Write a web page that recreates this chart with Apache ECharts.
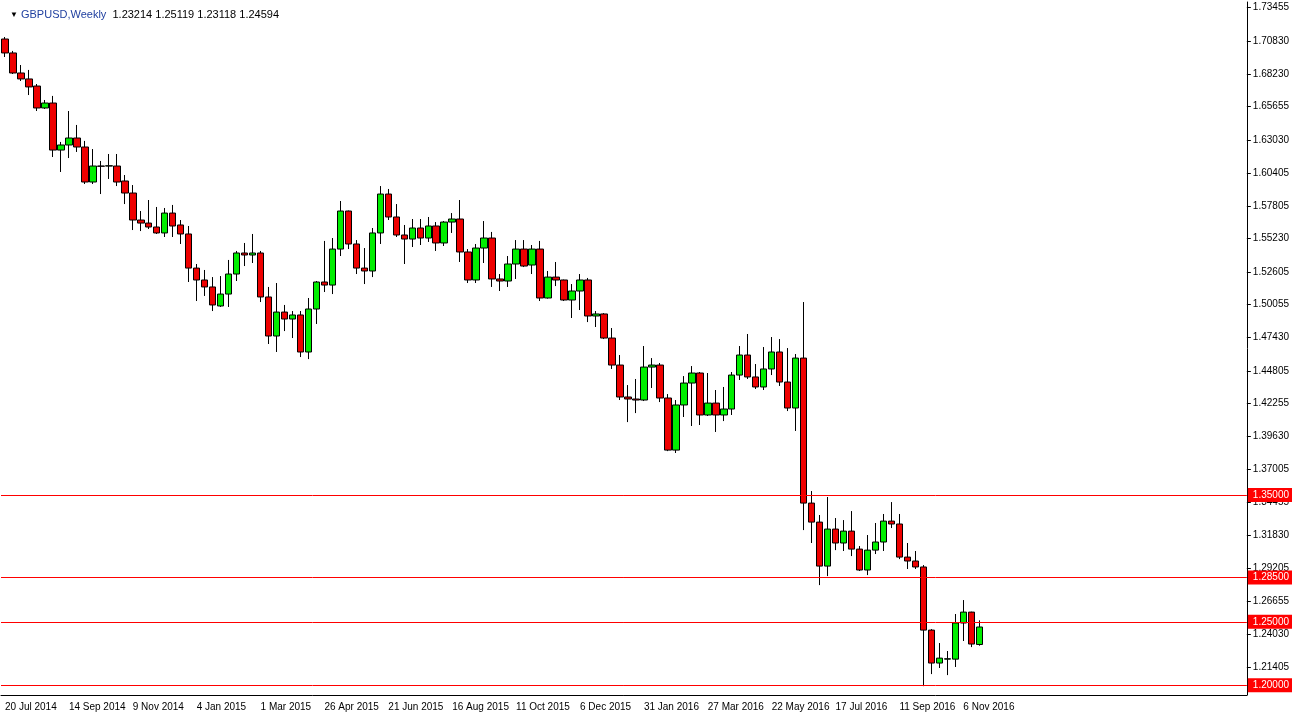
<!DOCTYPE html>
<html>
<head>
<meta charset="utf-8">
<script src="https://cdn.jsdelivr.net/npm/echarts@6/dist/echarts.min.js"></script>
<style>
  html, body { margin: 0; padding: 0; background: #fff; }
  #main { width: 1292px; height: 726px; }
</style>
</head>
<body>
<div id="main"></div>
<script>
// weekly GBPUSD candles, [open, close, low, high]
const candles = [
  [1.7098, 1.6988, 1.6956, 1.7114], [1.6988, 1.6830, 1.6822, 1.7004], [1.6830, 1.6783, 1.6767, 1.6893],
  [1.6783, 1.6720, 1.6656, 1.6854], [1.6727, 1.6554, 1.6530, 1.6743], [1.6554, 1.6593, 1.6546, 1.6617],
  [1.6593, 1.6222, 1.6167, 1.6649], [1.6222, 1.6262, 1.6049, 1.6286], [1.6262, 1.6317, 1.6159, 1.6530],
  [1.6317, 1.6246, 1.6207, 1.6420], [1.6246, 1.5970, 1.5954, 1.6294], [1.5970, 1.6096, 1.5954, 1.6230],
  [1.6096, 1.6094, 1.5875, 1.6136], [1.6096, 1.6098, 1.5994, 1.6191], [1.6096, 1.5970, 1.5938, 1.6191],
  [1.5978, 1.5883, 1.5796, 1.6025], [1.5883, 1.5670, 1.5591, 1.5946], [1.5670, 1.5646, 1.5583, 1.5741],
  [1.5646, 1.5615, 1.5599, 1.5828], [1.5615, 1.5568, 1.5560, 1.5773], [1.5568, 1.5725, 1.5536, 1.5765],
  [1.5725, 1.5623, 1.5536, 1.5789], [1.5631, 1.5560, 1.5481, 1.5670], [1.5560, 1.5291, 1.5181, 1.5623],
  [1.5291, 1.5197, 1.5031, 1.5323], [1.5197, 1.5142, 1.5071, 1.5276], [1.5142, 1.5000, 1.4952, 1.5220],
  [1.4992, 1.5086, 1.4984, 1.5228], [1.5086, 1.5244, 1.4984, 1.5355], [1.5244, 1.5410, 1.5189, 1.5426],
  [1.5410, 1.5394, 1.5307, 1.5489], [1.5394, 1.5410, 1.5331, 1.5560], [1.5410, 1.5063, 1.5023, 1.5426],
  [1.5063, 1.4755, 1.4692, 1.5142], [1.4755, 1.4944, 1.4629, 1.5173], [1.4944, 1.4889, 1.4794, 1.5000],
  [1.4889, 1.4921, 1.4739, 1.4952], [1.4921, 1.4629, 1.4589, 1.4952], [1.4629, 1.4968, 1.4573, 1.5055],
  [1.4968, 1.5181, 1.4850, 1.5189], [1.5181, 1.5157, 1.5102, 1.5505], [1.5157, 1.5441, 1.5086, 1.5528],
  [1.5441, 1.5741, 1.5386, 1.5820], [1.5741, 1.5481, 1.5441, 1.5745], [1.5481, 1.5291, 1.5244, 1.5512],
  [1.5291, 1.5268, 1.5165, 1.5449], [1.5268, 1.5568, 1.5220, 1.5607], [1.5568, 1.5875, 1.5481, 1.5938],
  [1.5875, 1.5694, 1.5670, 1.5915], [1.5694, 1.5552, 1.5536, 1.5796], [1.5552, 1.5520, 1.5323, 1.5631],
  [1.5520, 1.5607, 1.5457, 1.5678], [1.5607, 1.5528, 1.5473, 1.5678], [1.5528, 1.5623, 1.5497, 1.5694],
  [1.5623, 1.5489, 1.5426, 1.5654], [1.5489, 1.5654, 1.5465, 1.5662], [1.5654, 1.5678, 1.5568, 1.5725],
  [1.5678, 1.5418, 1.5339, 1.5828], [1.5418, 1.5197, 1.5173, 1.5441], [1.5197, 1.5449, 1.5173, 1.5481],
  [1.5449, 1.5528, 1.5331, 1.5662], [1.5528, 1.5205, 1.5142, 1.5576], [1.5205, 1.5189, 1.5110, 1.5244],
  [1.5189, 1.5323, 1.5142, 1.5386], [1.5323, 1.5441, 1.5205, 1.5512], [1.5441, 1.5307, 1.5299, 1.5512],
  [1.5315, 1.5441, 1.5244, 1.5473], [1.5441, 1.5055, 1.5031, 1.5505], [1.5055, 1.5220, 1.5050, 1.5268],
  [1.5220, 1.5197, 1.5149, 1.5339], [1.5197, 1.5039, 1.5031, 1.5200], [1.5039, 1.5110, 1.4897, 1.5165],
  [1.5110, 1.5197, 1.4960, 1.5244], [1.5197, 1.4913, 1.4865, 1.5213], [1.4913, 1.4929, 1.4826, 1.4952],
  [1.4929, 1.4739, 1.4731, 1.4936], [1.4739, 1.4526, 1.4495, 1.4818], [1.4526, 1.4274, 1.4250, 1.4605],
  [1.4274, 1.4258, 1.4076, 1.4368], [1.4258, 1.4250, 1.4147, 1.4416], [1.4250, 1.4510, 1.4242, 1.4676],
  [1.4510, 1.4526, 1.4345, 1.4581], [1.4526, 1.4266, 1.4234, 1.4542], [1.4266, 1.3855, 1.3847, 1.4297],
  [1.3855, 1.4211, 1.3832, 1.4250], [1.4211, 1.4384, 1.4116, 1.4439], [1.4384, 1.4463, 1.4045, 1.4518],
  [1.4463, 1.4132, 1.4053, 1.4471], [1.4132, 1.4226, 1.4124, 1.4463], [1.4226, 1.4132, 1.3998, 1.4329],
  [1.4132, 1.4179, 1.4084, 1.4353], [1.4179, 1.4447, 1.4132, 1.4471], [1.4447, 1.4605, 1.4408, 1.4676],
  [1.4605, 1.4432, 1.4416, 1.4771], [1.4432, 1.4353, 1.4337, 1.4534], [1.4353, 1.4495, 1.4329, 1.4668],
  [1.4495, 1.4629, 1.4447, 1.4747], [1.4629, 1.4392, 1.4361, 1.4731], [1.4392, 1.4187, 1.4163, 1.4660],
  [1.4187, 1.4581, 1.4006, 1.4613], [1.4581, 1.3437, 1.3224, 1.5023], [1.3437, 1.3287, 1.3122, 1.3532],
  [1.3287, 1.2940, 1.2790, 1.3343], [1.2940, 1.3232, 1.2861, 1.3485], [1.3232, 1.3122, 1.3066, 1.3319],
  [1.3122, 1.3216, 1.3059, 1.3303], [1.3216, 1.3074, 1.3019, 1.3374], [1.3074, 1.2909, 1.2901, 1.3098],
  [1.2909, 1.3066, 1.2869, 1.3185], [1.3066, 1.3130, 1.3035, 1.3280], [1.3130, 1.3295, 1.3059, 1.3351],
  [1.3295, 1.3272, 1.3240, 1.3445], [1.3272, 1.3011, 1.2995, 1.3351], [1.3011, 1.2980, 1.2917, 1.3122],
  [1.2980, 1.2933, 1.2917, 1.3059], [1.2933, 1.2435, 1.1993, 1.2948], [1.2435, 1.2175, 1.2088, 1.2443],
  [1.2175, 1.2214, 1.2136, 1.2333], [1.2206, 1.2209, 1.2080, 1.2270], [1.2206, 1.2491, 1.2144, 1.2562],
  [1.2491, 1.2577, 1.2349, 1.2672], [1.2577, 1.2325, 1.2301, 1.2580], [1.23214, 1.24594, 1.23118, 1.25119]
];

const priceTicks = [1.73455, 1.70830, 1.68230, 1.65655, 1.63030, 1.60405, 1.57805, 1.55230, 1.52605,
  1.50055, 1.47430, 1.44805, 1.42255, 1.39630, 1.37005, 1.34455, 1.31830, 1.29205, 1.26655,
  1.24030, 1.21405, 1.18855];
const levels = [1.35, 1.285, 1.25, 1.20];
const lastPrice = 1.24594;

const startDate = new Date(Date.UTC(2014, 6, 20));
const totalSlots = 156;
const labelEvery = 8;
const months = ['Jan', 'Feb', 'Mar', 'Apr', 'May', 'Jun', 'Jul', 'Aug', 'Sep', 'Oct', 'Nov', 'Dec'];

let dates = [];
for (let i = 0; i < totalSlots; i++) {
    let d = new Date(startDate.getTime() + i * 7 * 86400000);
    dates.push(d.getUTCDate() + ' ' + months[d.getUTCMonth()] + ' ' + d.getUTCFullYear());
}
let seriesData = dates.map((d, i) => i < candles.length ? candles[i] : '-');
// labels only where there are bars
const showLabel = (i) => i % labelEvery === 0 && i < candles.length;

const myChart = echarts.init(document.getElementById('main'));
const font = 'Liberation Sans';

let option = {
    animation: false,
    backgroundColor: '#fff',
    textStyle: {fontFamily: font},
    title: {
        text: '{tri|▼} {name|GBPUSD,Weekly}  1.23214 1.25119 1.23118 1.24594',
        left: 5, top: 4,
        textStyle: {
            fontSize: 11, fontWeight: 'normal', color: '#000', fontFamily: font,
            rich: {
                tri: {fontSize: 8, color: '#000'},
                name: {fontSize: 11, color: '#1f3f9f', fontFamily: font}
            }
        }
    },
    grid: {left: 1, right: 45, top: 2, bottom: 31},
    xAxis: {
        type: 'category',
        data: dates,
        boundaryGap: true,
        axisLine: {lineStyle: {color: '#000'}},
        axisTick: {alignWithLabel: true, length: 4, lineStyle: {color: '#000'}, interval: showLabel},
        axisLabel: {interval: showLabel, align: 'left', color: '#000', fontSize: 10, margin: 7, fontFamily: font},
        splitLine: {show: false}
    },
    yAxis: {
        type: 'value',
        position: 'right',
        min: 1.1923,
        max: 1.7390,
        scale: true,
        axisLine: {show: true, lineStyle: {color: '#000'}},
        axisTick: {show: true, length: 4, lineStyle: {color: '#000'}, customValues: priceTicks},
        axisLabel: {
            color: '#000', fontSize: 10, margin: 6, fontFamily: font,
            customValues: priceTicks,
            formatter: (v) => v.toFixed(5)
        },
        splitLine: {show: false}
    },
    series: [{
        type: 'candlestick',
        data: seriesData,
        barWidth: 7,
        itemStyle: {
            color: '#00ee00', color0: '#ee0000',
            borderColor: '#000', borderColor0: '#000', borderWidth: 1
        },
        markLine: {
            symbol: 'none',
            silent: true,
            precision: 5,
            lineStyle: {color: '#ff0000', type: 'solid', width: 1},
            label: {
                position: 'end', color: '#fff', backgroundColor: '#ff0000',
                fontSize: 10, padding: [2, 5], distance: 1,
                formatter: (p) => p.value.toFixed(5), fontFamily: font
            },
            // last price tag first so the 1.25 tag covers it
            data: [{
                yAxis: lastPrice,
                lineStyle: {opacity: 0},
                label: {backgroundColor: '#000', color: '#fff'}
            }].concat(levels.map(v => ({yAxis: v})))
        }
    }]
};
myChart.setOption(option);
</script>
</body>
</html>
